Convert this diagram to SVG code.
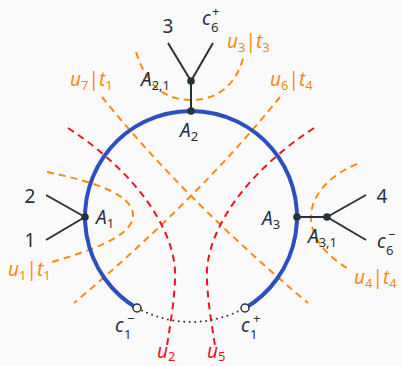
<svg xmlns="http://www.w3.org/2000/svg" width="402" height="366" viewBox="0 0 402 366">
<defs>
<style>
text{font-family:"Noto Sans","Open Sans",sans-serif;font-size:19px;fill:#263238}
.i{font-style:italic}
.s{font-size:13px}
.o{fill:#f98a12}
.r{fill:#f0141e}
.od{fill:none;stroke:#f98a12;stroke-width:2;stroke-dasharray:7 5}
.rd{fill:none;stroke:#f0141e;stroke-width:2;stroke-dasharray:7 5}
.ln{stroke:#263238;stroke-width:2;fill:none}
.dot{fill:#263238}
.open{fill:#ffffff;stroke:#263238;stroke-width:1.5}
</style>
</defs>
<rect width="402" height="366" fill="#fafafa"/>
<g id="connectors">
<path class="od" d="M102,97 Q184.5,199.3 308,303"/>
<path class="od" d="M280,97 Q197.5,199.3 74,303"/>
<path class="od" d="M136,52 C145,80 160,100 191,100 C222,100 238,80 244,55"/>
<path class="od" d="M47,172 C95,182 135,195 133,217 C131,238 85,252 52,262"/>
<path class="od" d="M357,164 C330,175 311,195 311,217 C311,240 330,258 347,268"/>
<path class="rd" d="M68,128 C140,175 178,235 175,280 C174,305 170,325 167,346"/>
<path class="rd" d="M314,128 C242,175 204,235 207,280 C208,305 212,325 215,346"/>
<path d="M136.9,308.1 A106,106 0 1 1 245.1,308.1" fill="none" stroke="#2c4fbf" stroke-width="4"/>
<path d="M137,308 Q191,336 245,308" fill="none" stroke="#263238" stroke-width="2" stroke-dasharray="0 5.5" stroke-linecap="round"/>
<path class="ln" d="M191,111 L191,81 M191,81 L168,43 M191,81 L213,43"/>
<path class="ln" d="M85,217 L46,195 M85,217 L46,240"/>
<path class="ln" d="M297,217 L327,217 M327,217 L366,195 M327,217 L366,240"/>
</g>
<g id="A1"><circle class="dot" cx="85" cy="217" r="3.8"/><text x="96" y="224"><tspan class="i">A</tspan><tspan class="s" dy="4">1</tspan></text></g>
<g id="A2"><circle class="dot" cx="191" cy="111" r="3.8"/><text x="180" y="137"><tspan class="i">A</tspan><tspan class="s" dy="4">2</tspan></text></g>
<g id="A3"><circle class="dot" cx="297" cy="217" r="3.8"/><text x="262" y="225"><tspan class="i">A</tspan><tspan class="s" dy="4">3</tspan></text></g>
<g id="A21"><circle class="dot" cx="191" cy="81" r="3.8"/><text x="141" y="86"><tspan class="i">A</tspan><tspan class="s" dy="4">2,1</tspan></text></g>
<g id="A31"><circle class="dot" cx="327" cy="217" r="3.8"/><text x="308" y="243"><tspan class="i">A</tspan><tspan class="s" dy="4">3,1</tspan></text></g>
<g id="leaf1"><text x="30" y="247" text-anchor="middle">1</text></g>
<g id="leaf2"><text x="30" y="203" text-anchor="middle">2</text></g>
<g id="leaf3"><text x="168" y="33" text-anchor="middle">3</text></g>
<g id="leaf4"><text x="382" y="203" text-anchor="middle">4</text></g>
<g id="c6p"><text x="202" y="25"><tspan class="i">c</tspan></text><text class="s" x="211" y="32">6</text><text class="s" x="212" y="16">+</text></g>
<g id="c6m"><text x="377" y="248"><tspan class="i">c</tspan></text><text class="s" x="386" y="255">6</text><text class="s" x="388" y="239">−</text></g>
<g id="c1m"><circle class="open" cx="137" cy="308" r="4"/><text x="115" y="332"><tspan class="i">c</tspan></text><text class="s" x="124" y="339">1</text><text class="s" x="127" y="323">−</text></g>
<g id="c1p"><circle class="open" cx="245" cy="308" r="4"/><text x="241" y="332"><tspan class="i">c</tspan></text><text class="s" x="250" y="339">1</text><text class="s" x="253" y="323">+</text></g>
<g id="lbl-u7t1"><text class="o" x="70" y="86"><tspan class="i">u</tspan><tspan class="s" dy="4">7</tspan><tspan dy="-4">|</tspan><tspan class="i">t</tspan><tspan class="s" dy="4">1</tspan></text></g>
<g id="lbl-u3t3"><text class="o" x="227" y="48"><tspan class="i">u</tspan><tspan class="s" dy="4">3</tspan><tspan dy="-4">|</tspan><tspan class="i">t</tspan><tspan class="s" dy="4">3</tspan></text></g>
<g id="lbl-u6t4"><text class="o" x="270" y="86"><tspan class="i">u</tspan><tspan class="s" dy="4">6</tspan><tspan dy="-4">|</tspan><tspan class="i">t</tspan><tspan class="s" dy="4">4</tspan></text></g>
<g id="lbl-u1t1"><text class="o" x="8" y="276"><tspan class="i">u</tspan><tspan class="s" dy="4">1</tspan><tspan dy="-4">|</tspan><tspan class="i">t</tspan><tspan class="s" dy="4">1</tspan></text></g>
<g id="lbl-u4t4"><text class="o" x="354" y="284"><tspan class="i">u</tspan><tspan class="s" dy="4">4</tspan><tspan dy="-4">|</tspan><tspan class="i">t</tspan><tspan class="s" dy="4">4</tspan></text></g>
<g id="lbl-u2"><text class="r" x="157" y="358"><tspan class="i">u</tspan><tspan class="s" dy="3">2</tspan></text></g>
<g id="lbl-u5"><text class="r" x="207" y="358"><tspan class="i">u</tspan><tspan class="s" dy="3">5</tspan></text></g>
</svg>
